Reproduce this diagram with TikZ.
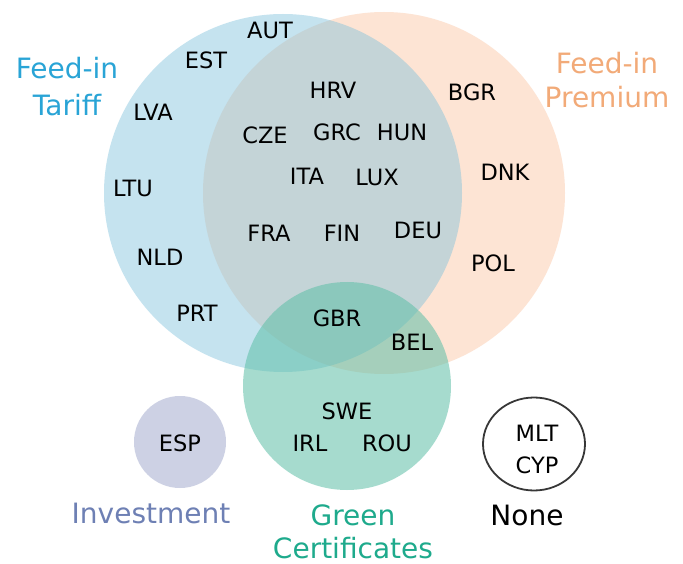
\documentclass[tikz,border=0pt]{standalone}
\usepackage{fontspec}
\setmainfont{DejaVu Sans}
\definecolor{fipfill}{RGB}{253,228,212}
\definecolor{fitfill}{RGB}{127,193,220}
\definecolor{gcfill}{RGB}{93,191,167}
\definecolor{invfill}{RGB}{205,209,228}
\definecolor{fitlab}{RGB}{41,164,214}
\definecolor{fiplab}{RGB}{242,170,120}
\definecolor{invlab}{RGB}{110,128,180}
\definecolor{gclab}{RGB}{30,170,140}
\definecolor{nonedraw}{RGB}{55,55,55}
\begin{document}
\begin{tikzpicture}[x=1pt,y=-1pt,
  cc/.style={inner sep=0pt,font=\fontsize{22.5}{26}\selectfont},
  lab/.style={inner sep=0pt,font=\fontsize{28}{36}\selectfont,align=center}]
\useasboundingbox[fill=white] (0,0) rectangle (683,564);
% sets
\fill[fipfill] (384,193) circle[radius=181];
\fill[fitfill,fill opacity=0.45] (283,193) circle[radius=179];
\fill[gcfill,fill opacity=0.55] (347,386) circle[radius=104];
\fill[invfill] (180,442) circle[radius=46];
\draw[nonedraw,line width=1.8pt] (534,444) ellipse[x radius=51,y radius=46.5];
% set labels
\node[lab,text=fitlab,font=\fontsize{28}{37}\selectfont] (lft) at (67,87) {Feed-in\\Tariff};
\node[lab,text=fiplab,font=\fontsize{28}{34}\selectfont] (lfp) at (607,80) {Feed-in\\Premium};
\node[lab,text=invlab] (linv) at (151,513) {Investment};
\node[lab,text=gclab,font=\fontsize{28}{33}\selectfont] (lgc) at (353,532) {Green\\Certificates};
\node[lab,text=black] (lnone) at (527,515) {None};
% countries
\node[cc] (aut) at (270,30) {AUT};
\node[cc] (est) at (206,60) {EST};
\node[cc] (lva) at (153,112) {LVA};
\node[cc] (ltu) at (133,188) {LTU};
\node[cc] (nld) at (160,257) {NLD};
\node[cc] (prt) at (197,313) {PRT};
\node[cc] (hrv) at (333,90) {HRV};
\node[cc] (cze) at (265,135) {CZE};
\node[cc] (grc) at (337,132) {GRC};
\node[cc] (hun) at (402,132) {HUN};
\node[cc] (ita) at (307,176) {ITA};
\node[cc] (lux) at (377,177) {LUX};
\node[cc] (fra) at (269,233) {FRA};
\node[cc] (fin) at (342,233) {FIN};
\node[cc] (deu) at (418,230) {DEU};
\node[cc] (bgr) at (472,92) {BGR};
\node[cc] (dnk) at (505,172) {DNK};
\node[cc] (pol) at (493,263) {POL};
\node[cc] (gbr) at (337,318) {GBR};
\node[cc] (bel) at (412,342) {BEL};
\node[cc] (swe) at (347,411) {SWE};
\node[cc] (irl) at (310,443) {IRL};
\node[cc] (rou) at (387,443) {ROU};
\node[cc] (esp) at (180,443) {ESP};
\node[cc] (mlt) at (537,433) {MLT};
\node[cc] (cyp) at (537,465) {CYP};
\end{tikzpicture}
\end{document}
